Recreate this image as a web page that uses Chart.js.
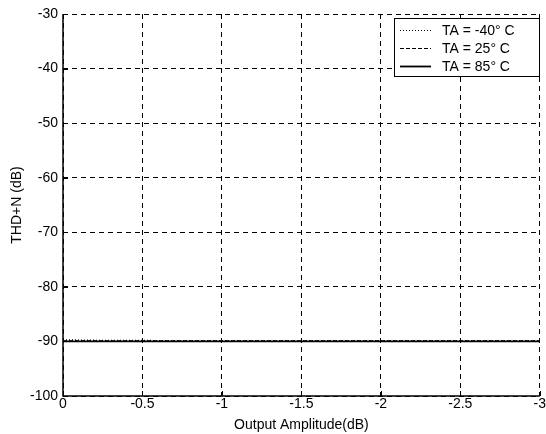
<!DOCTYPE html>
<html>
<head>
<meta charset="utf-8">
<script src="https://cdn.jsdelivr.net/npm/chart.js@4"></script>
<style>
  html, body { margin: 0; padding: 0; background: #fff; }
  #wrap { width: 546px; height: 434px; }
</style>
</head>
<body>
<div id="wrap"><canvas id="c"></canvas></div>
<script>
// output amplitude (dB), x axis
const amplitude = [0, -0.25, -0.5, -0.75, -1, -1.25, -1.5, -1.75, -2, -2.25, -2.5, -2.75, -3];
// THD+N (dB) per temperature
const thdMinus40 = [-89.7, -89.8, -89.8, -89.9, -89.9, -89.9, -89.9, -89.9, -89.9, -89.9, -89.9, -89.9, -89.9];
const thd25 = [-89.9, -89.9, -89.9, -89.9, -89.9, -89.9, -89.9, -89.9, -89.9, -89.9, -89.9, -89.9, -89.9];
const thd85 = [-90.0, -90.0, -90.0, -90.0, -90.0, -90.0, -90.0, -90.0, -90.0, -90.0, -90.0, -90.0, -90.0];
const seriesLabels = ['TA = -40° C', 'TA = 25° C', 'TA = 85° C'];

const FONT = 'Arial, "Liberation Sans", sans-serif';

function toPoints(ys) {
    return amplitude.map((x, i) => ({ x: x, y: ys[i] }));
}

// short ticks pointing into the plot, matlab style, plus solid left/bottom axes
const innerTicks = {
    id: 'innerTicks',
    afterDraw(chart) {
        const ctx = chart.ctx;
        const a = chart.chartArea;
        const xs = chart.scales.x, ys = chart.scales.y;
        ctx.save();
        ctx.strokeStyle = '#000';
        ctx.setLineDash([]);
        ctx.lineWidth = 1.5;
        ctx.beginPath();
        ctx.moveTo(a.left, a.top);
        ctx.lineTo(a.left, a.bottom);
        ctx.lineTo(a.right, a.bottom);
        ctx.stroke();
        ctx.lineWidth = 1;
        ctx.beginPath();
        xs.ticks.forEach(t => {
            const px = Math.round(xs.getPixelForValue(t.value)) + 0.5;
            ctx.moveTo(px, a.bottom);
            ctx.lineTo(px, a.bottom - 5);
        });
        ys.ticks.forEach(t => {
            const py = Math.round(ys.getPixelForValue(t.value)) + 0.5;
            ctx.moveTo(a.left, py);
            ctx.lineTo(a.left + 5, py);
        });
        ctx.stroke();
        ctx.restore();
    }
};

// boxed legend in the top right corner
const boxLegend = {
    id: 'boxLegend',
    afterDraw(chart) {
        const ctx = chart.ctx;
        const a = chart.chartArea;
        const w = 145, h = 58;
        const x0 = Math.round(a.right) - w - 1, y0 = Math.round(a.top) + 4;
        ctx.save();
        ctx.fillStyle = '#fff';
        ctx.fillRect(x0, y0, w, h);
        ctx.strokeStyle = '#000';
        ctx.lineWidth = 1;
        ctx.setLineDash([]);
        ctx.strokeRect(x0 + 0.5, y0 + 0.5, w, h);
        ctx.font = '14px ' + FONT;
        ctx.textBaseline = 'middle';
        chart.data.datasets.forEach((ds, i) => {
            const yy = y0 + 12 + i * 18;
            ctx.beginPath();
            ctx.setLineDash(ds.borderDash || []);
            ctx.lineWidth = ds.borderWidth;
            ctx.moveTo(x0 + 6, yy + 0.5);
            ctx.lineTo(x0 + 37, yy + 0.5);
            ctx.stroke();
            ctx.setLineDash([]);
            ctx.fillStyle = '#000';
            ctx.fillText(ds.label, x0 + 48, yy + 1);
        });
        ctx.restore();
    }
};

new Chart(document.getElementById('c'), {
    type: 'line',
    data: {
        datasets: [
            { label: seriesLabels[0], data: toPoints(thdMinus40), borderColor: '#000', borderWidth: 1.2, borderDash: [1, 2], pointRadius: 0, fill: false },
            { label: seriesLabels[1], data: toPoints(thd25), borderColor: '#000', borderWidth: 1.2, borderDash: [4, 2], pointRadius: 0, fill: false },
            { label: seriesLabels[2], data: toPoints(thd85), borderColor: '#000', borderWidth: 1.8, pointRadius: 0, fill: false }
        ]
    },
    options: {
        responsive: true,
        maintainAspectRatio: false,
        animation: false,
        layout: { padding: { left: 0, top: 14, right: 5, bottom: 0 } },
        plugins: {
            legend: { display: false },
            tooltip: { enabled: false }
        },
        scales: {
            x: {
                type: 'linear',
                reverse: true,
                min: -3,
                max: 0,
                afterFit(scale) { scale.height = 38; },
                ticks: {
                    stepSize: 0.5,
                    color: '#000',
                    font: { family: FONT, size: 14 },
                    padding: 0,
                    maxRotation: 0,
                    callback: v => String(v)
                },
                grid: {
                    color: '#000',
                    lineWidth: 1,
                    drawTicks: false
                },
                border: { display: false, dash: [5, 4] },
                title: {
                    display: true,
                    text: 'Output Amplitude(dB)',
                    color: '#000',
                    font: { family: FONT, size: 14 },
                    padding: { top: 0, bottom: 0 }
                }
            },
            y: {
                min: -100,
                max: -30,
                afterFit(scale) { scale.width = 63; },
                ticks: {
                    stepSize: 10,
                    color: '#000',
                    font: { family: FONT, size: 14 },
                    padding: 5,
                    callback: v => String(v)
                },
                grid: {
                    color: '#000',
                    lineWidth: 1,
                    drawTicks: false
                },
                border: { display: false, dash: [5, 4] },
                title: {
                    display: true,
                    text: 'THD+N (dB)',
                    color: '#000',
                    font: { family: FONT, size: 14 },
                    padding: { top: 9, bottom: 0 }
                }
            }
        }
    },
    plugins: [innerTicks, boxLegend]
});
</script>
</body>
</html>
